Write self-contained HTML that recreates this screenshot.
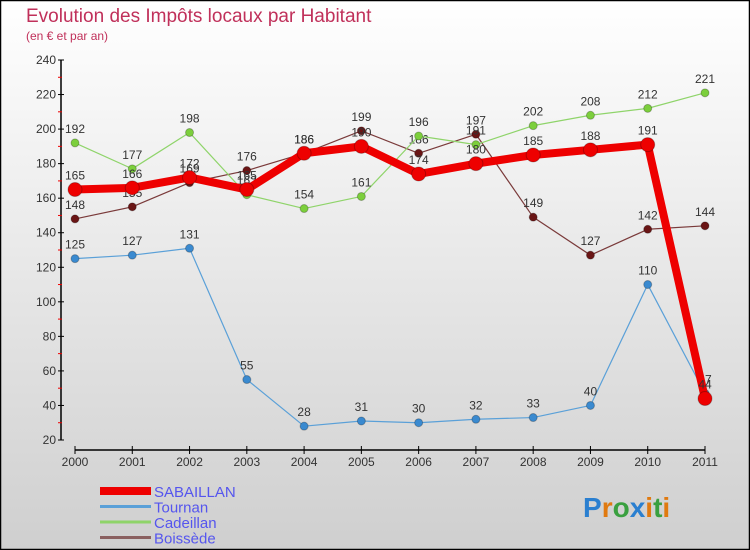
<!DOCTYPE html>
<html><head><meta charset="utf-8"><style>
body{margin:0;}
#c{width:750px;height:550px;position:relative;overflow:hidden;}
svg{display:block;font-family:"Liberation Sans",sans-serif;}
</style></head><body>
<div id="c">
<svg id="s" width="750" height="550" xmlns="http://www.w3.org/2000/svg">
<defs><linearGradient id="bg" x1="0" y1="0" x2="0" y2="1"><stop offset="0" stop-color="#ffffff"/><stop offset="1" stop-color="#cfcfcf"/></linearGradient></defs>
<rect x="0.5" y="0.5" width="749" height="549" fill="url(#bg)" stroke="#000" stroke-width="1.5"/>
<text x="26" y="22" font-size="19" fill="#c0305a">Evolution des Impôts locaux par Habitant</text>
<text x="26" y="40" font-size="12" fill="#c0305a">(en € et par an)</text>
<g id="axes"></g><g id="series"></g><g id="legend"></g>
<text x="583" y="517" font-size="28" font-weight="bold"><tspan fill="#2a7fd0">P</tspan><tspan fill="#e07a10">r</tspan><tspan fill="#3aa040">o</tspan><tspan fill="#2a7fd0">x</tspan><tspan fill="#e07a10">i</tspan><tspan fill="#3aa040">t</tspan><tspan fill="#e07a10">i</tspan></text>
</svg></div>
<script>
const years=["2000","2001","2002","2003","2004","2005","2006","2007","2008","2009","2010","2011"];
const yTicks=[20,40,60,80,100,120,140,160,180,200,220,240];
const sabaillan=[165,166,172,165,186,190,174,180,185,188,191,44];
const tournan=[125,127,131,55,28,31,30,32,33,40,110,47];
const cadeillan=[192,177,198,162,154,161,196,191,202,208,212,221];
const boissede=[148,155,169,176,186,199,186,197,149,127,142,144];
const NS="http://www.w3.org/2000/svg";
function X(i){return 75+i*(630/11);}
function Y(v){return 440-(v-20)*380/220;}
function mk(t,a,p){const e=document.createElementNS(NS,t);for(const k in a)e.setAttribute(k,a[k]);p.appendChild(e);return e;}
const ax=document.getElementById('axes');
const yl=mk('line',{x1:61,y1:60,x2:61,y2:440,stroke:'#000','stroke-width':1.5},ax);


yTicks.forEach(v=>{
  mk('line',{x1:58,y1:Y(v),x2:64,y2:Y(v),stroke:'#000'},ax);
  if(v<240)mk('line',{x1:58,y1:Y(v+10),x2:62,y2:Y(v+10),stroke:'#e00'},ax);
  const t=mk('text',{x:56,y:Y(v)+4,'font-size':12,'text-anchor':'end',fill:'#333'},ax);
  
  
  t.textContent=v;
});
const xl=mk('line',{x1:75,y1:450,x2:705,y2:450,stroke:'#000','stroke-width':1.5},ax);


years.forEach((y,i)=>{
  mk('line',{x1:X(i),y1:446,x2:X(i),y2:454,stroke:'#000'},ax);
  const t=mk('text',{x:X(i),y:466,'font-size':12,'text-anchor':'middle',fill:'#333'},ax);
  
  
  t.textContent=y;
});
const sg=document.getElementById('series');
function draw(name,data,color,w,r,dot){
  const g=mk('g',{},sg);
  
  
  const pl=mk('polyline',{points:data.map((v,i)=>X(i)+','+Y(v)).join(' '),fill:'none',stroke:color,'stroke-width':w,'stroke-linejoin':'round'},g);
  
  
  data.forEach((v,i)=>{
    const c=mk('circle',{cx:X(i),cy:Y(v),r:r,fill:dot,stroke:'rgba(0,0,0,0.25)','stroke-width':1},g);
    
    
    const t=mk('text',{x:X(i),y:Y(v)-10,'font-size':12,'text-anchor':'middle',fill:'#333'},g);
    
    
    t.textContent=v;
  });
}
draw('boissede',boissede,'#7a3a3a',1.2,4,'#6a1515');
draw('cadeillan',cadeillan,'#8fd46a',1.2,4,'#7ccf3c');
draw('tournan',tournan,'#5aa0d8',1.2,4,'#3a8ad0');
draw('sabaillan',sabaillan,'#ee0000',8,7,'#ee0000');
const lg=document.getElementById('legend');
const items=[['SABAILLAN','#ee0000',8],['Tournan','#5aa0d8',3],['Cadeillan','#8fd46a',3],['Boissède','#8a6060',3]];
items.forEach((it,i)=>{
  const y=492+i*15.5;
  const l=mk('line',{x1:100,y1:y-1,x2:151,y2:y-1,stroke:it[1],'stroke-width':it[2]},lg);
  
  
  const t=mk('text',{x:154,y:y+5,'font-size':15,fill:'#5555ee'},lg);
  
  
  t.textContent=it[0];
});
</script>
</body></html>
